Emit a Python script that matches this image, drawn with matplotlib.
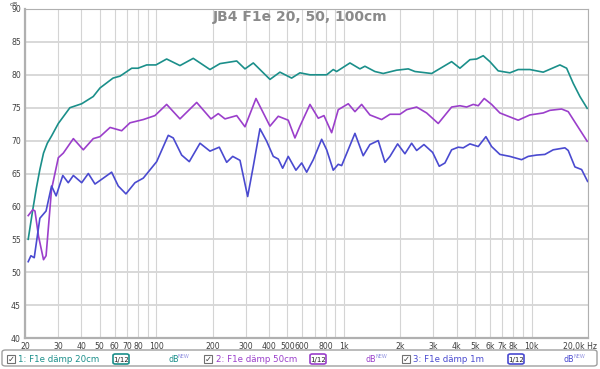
import numpy as np
import matplotlib
matplotlib.use('Agg')
from matplotlib import pyplot as plt
from matplotlib.patches import FancyBboxPatch, Rectangle

# frequency response data (Hz, dB)
f_20cm = [20.8, 22.0, 23.0, 24.0, 25.1, 26.3, 27.7, 30.1, 34.7, 40.1, 46.2, 50.2, 58.9, 64.2,
          74.1, 80.0, 89.0,
          99.7, 113.7, 133.9, 157.6, 193.5, 218.8, 268.6, 297.3, 329.2, 404.0, 456.6, 527.0,
          583.6, 660.0, 810.0, 878.0, 915.4, 1078, 1218, 1295, 1464, 1621, 1911, 2204, 2393,
          2937, 3752, 4155, 4698, 5101, 5529, 6002, 6645, 7670, 8494, 9806, 11544, 14169,
          15385, 16686, 18112, 19804]
db_20cm = [55.0, 59.5, 62.8, 65.6, 68.1, 69.6, 70.7, 72.6, 75.0, 75.6, 76.7, 78.0, 79.5, 79.8,
           81.0, 81.0, 81.5,
           81.5, 82.4, 81.4, 82.5, 80.8, 81.7, 82.1, 80.9, 81.8, 79.3, 80.4, 79.5,
           80.3, 80.0, 80.0, 80.8, 80.5, 81.8, 80.9, 81.3, 80.5, 80.2, 80.7, 80.9, 80.5,
           80.2, 82.0, 81.0, 82.3, 82.4, 82.9, 82.0, 80.6, 80.3, 80.8, 80.8, 80.4, 81.5,
           81.0, 78.7, 76.7, 74.9]

f_50cm = [20.8, 22.0, 22.6, 23.6, 25.1, 25.9, 27.7, 30.1, 32.0, 36.2, 40.9, 46.2, 50.2, 56.8,
          65.5, 72.5, 85.4, 98.5, 113.7, 133.9, 164.4, 195.9, 214.2, 232.6, 268.6, 297.3,
          340.3, 404.0, 447.2, 505.5, 548.8, 583.6, 660.0, 730.7, 783.6, 861.0, 933.7, 1056,
          1146, 1244, 1377, 1590, 1761, 1990, 2161, 2443, 2762, 3184, 3752, 4155, 4511, 4893,
          5202, 5597, 6128, 6784, 8494, 9806, 11544, 12531, 14467, 15690, 17396, 19804]
db_50cm = [58.6, 59.5, 59.3, 55.5, 51.9, 52.5, 62.6, 67.4, 68.1, 70.3, 68.6, 70.3, 70.6, 72.0,
           71.5, 72.7, 73.2, 73.8, 75.5, 73.3, 75.8, 73.3, 74.1, 73.3, 73.8, 72.1,
           76.4, 72.2, 73.7, 73.1, 70.4, 72.2, 75.5, 73.4, 73.8, 71.2, 74.7, 75.6,
           74.4, 75.5, 73.9, 73.2, 74.0, 74.0, 74.7, 75.1, 74.2, 72.6, 75.1, 75.3, 75.1, 75.5,
           75.3, 76.4, 75.5, 74.2, 73.1, 73.9, 74.2, 74.6, 74.8, 74.4, 72.4, 69.9]

f_1m = [20.8, 21.5, 22.4, 24.0, 25.9, 27.7, 29.3, 31.8, 34.0, 36.2, 40.1, 43.5, 47.2, 52.3,
        57.9, 62.8, 69.0, 77.1, 85.4, 100.6, 116.0, 123.3, 136.7, 150.1, 171.2, 193.5, 216.9,
        237.5, 255.8, 279.7, 307.3, 329.2, 357.3, 388.0, 420.7, 447.2, 472.0, 505.5, 555.6,
        596.0, 633.7, 687.3, 761.7, 810.0, 878.0, 933.7, 973.5, 1146, 1268, 1377, 1525,
        1656, 1761, 1934, 2116, 2297, 2443, 2672, 2973, 3224, 3457, 3675, 3752, 4070,
        4327, 4698, 5202, 5715, 6128, 6784, 7670, 8856, 9603, 10645, 11788, 13049, 15067,
        15690, 17036, 18494, 19900]
db_1m = [51.6, 52.5, 52.2, 58.2, 59.3, 63.1, 61.6, 64.7, 63.6, 64.7, 63.6, 65.0, 63.4, 64.3,
         65.2, 63.1, 61.9, 63.6, 64.3, 66.8, 70.8, 70.4, 67.8, 66.8, 69.6, 68.4, 69.0,
         66.7, 67.6, 67.0, 61.5, 66.1, 71.8, 69.9, 67.6, 67.2, 65.8, 67.6, 65.5,
         66.6, 65.2, 67.1, 70.2, 68.6, 65.5, 66.4, 66.2, 71.1, 67.7, 69.4, 70.0,
         66.7, 67.6, 69.5, 68.0, 69.6, 68.5, 69.4, 68.2, 66.1, 66.6, 68.1, 68.6, 69.0,
         68.9, 69.5, 69.1, 70.6, 69.1, 67.9, 67.6, 67.1, 67.6, 67.8, 67.9, 68.6, 68.9,
         68.5, 66.0, 65.6, 63.8]

x_ticks = [20, 30, 40, 50, 60, 70, 80, 100, 200, 300, 400, 500, 600, 800,
           1000, 2000, 3000, 4000, 5000, 6000, 7000, 8000, 10000]
x_labels = ['20', '30', '40', '50', '60', '70', '80', '100', '200', '300', '400', '500', '600', '800',
            '1k', '2k', '3k', '4k', '5k', '6k', '7k', '8k', '10k']
y_ticks = [40, 45, 50, 55, 60, 65, 70, 75, 80, 85, 90]

names = ['1: F1e dämp 20cm', '2: F1e dämp 50cm', '3: F1e dämp 1m']
colors = ['#1b8f8a', '#9b3fcb', '#4a4ad0']

grid_freqs = ([20, 30, 40, 50, 60, 70, 80, 90, 100, 200, 300, 400, 500, 600, 700, 800, 900,
               1000, 2000, 3000, 4000, 5000, 6000, 7000, 8000, 9000, 10000, 20000])

fig = plt.figure(figsize=(6, 3.69), dpi=100)
ax = fig.add_axes([25 / 600, 31 / 369, 563 / 600, 329 / 369])
ax.set_xscale('log')
ax.set_xlim(20, 20000)
ax.set_ylim(40, 90)

for gf in grid_freqs:
    ax.axvline(gf, color='#d4d4d4', lw=0.8, zorder=0)
for yt in y_ticks:
    ax.axhline(yt, color='#d8d8d8', lw=1.4, zorder=0)

ax.plot(f_20cm, db_20cm, color=colors[0], lw=1.2)
ax.plot(f_50cm, db_50cm, color=colors[1], lw=1.2)
ax.plot(f_1m, db_1m, color=colors[2], lw=1.2)

ax.set_xticks(x_ticks)
ax.set_xticklabels(x_labels)
ax.xaxis.set_minor_locator(matplotlib.ticker.NullLocator())
ax.set_yticks(y_ticks)
ax.tick_params(length=0, labelsize=5.6, colors='#404040', pad=3)
for s in ax.spines.values():
    s.set_color('#b0b0b0')
ax.spines['left'].set_linewidth(1.6)
ax.spines['bottom'].set_linewidth(1.6)

fig.text(597 / 600, 1 - 346.5 / 369, '20,0k Hz', fontsize=5.6, color='#404040', ha='right', va='center')
fig.text(14 / 600, 1 - 4 / 369, 'dB', fontsize=4.5, color='#404040', ha='center', va='center')
fig.text(300 / 600, 1 - 17 / 369, 'JB4 F1e 20, 50, 100cm', fontsize=10, fontweight='bold',
         color='#8a8a8a', ha='center', va='center')

# legend strip at the bottom
leg = FancyBboxPatch((2 / 600, 3 / 369), 595 / 600, 16 / 369, boxstyle='round,pad=0,rounding_size=0.006',
                     transform=fig.transFigure, fc='white', ec='#a0a0a0', lw=1.0)
fig.patches.append(leg)
ly = 1 - 359 / 369
chk_x = [7, 204, 402]
txt_x = [18, 216, 413]
box_x = [110, 307, 505]
db_x = [168, 366, 563]
for i in range(3):
    fig.patches.append(Rectangle((chk_x[i] / 600, ly - 4 / 369), 8 / 600, 8 / 369,
                                 transform=fig.transFigure, fc='white', ec='#707070', lw=0.8))
    fig.text((chk_x[i] + 4) / 600, ly, '✓', fontsize=6, color='#404040', ha='center', va='center')
    fig.text(txt_x[i] / 600, ly, names[i], fontsize=6.2, color=colors[i], ha='left', va='center')
    fig.lines.append(plt.Line2D([box_x[i] / 600, (box_x[i] + 22) / 600], [ly, ly],
                                transform=fig.transFigure, color=colors[i], lw=1.0, zorder=0))
    fig.patches.append(FancyBboxPatch(((box_x[i] + 3) / 600, ly - 5 / 369), 16 / 600, 10 / 369,
                                      boxstyle='round,pad=0,rounding_size=0.004',
                                      transform=fig.transFigure, fc='white', ec=colors[i], lw=1.2))
    fig.text((box_x[i] + 11) / 600, ly - 1 / 369, '1/12', fontsize=5, color='#202020',
             ha='center', va='center')
    fig.text(db_x[i] / 600, ly, 'dB', fontsize=5.8, color=colors[i], ha='left', va='center')
    fig.text((db_x[i] + 10) / 600, ly + 3 / 369, 'NEW', fontsize=3.6, color='#9090e0',
             ha='left', va='center')

fig.savefig('out.png', dpi=100)
